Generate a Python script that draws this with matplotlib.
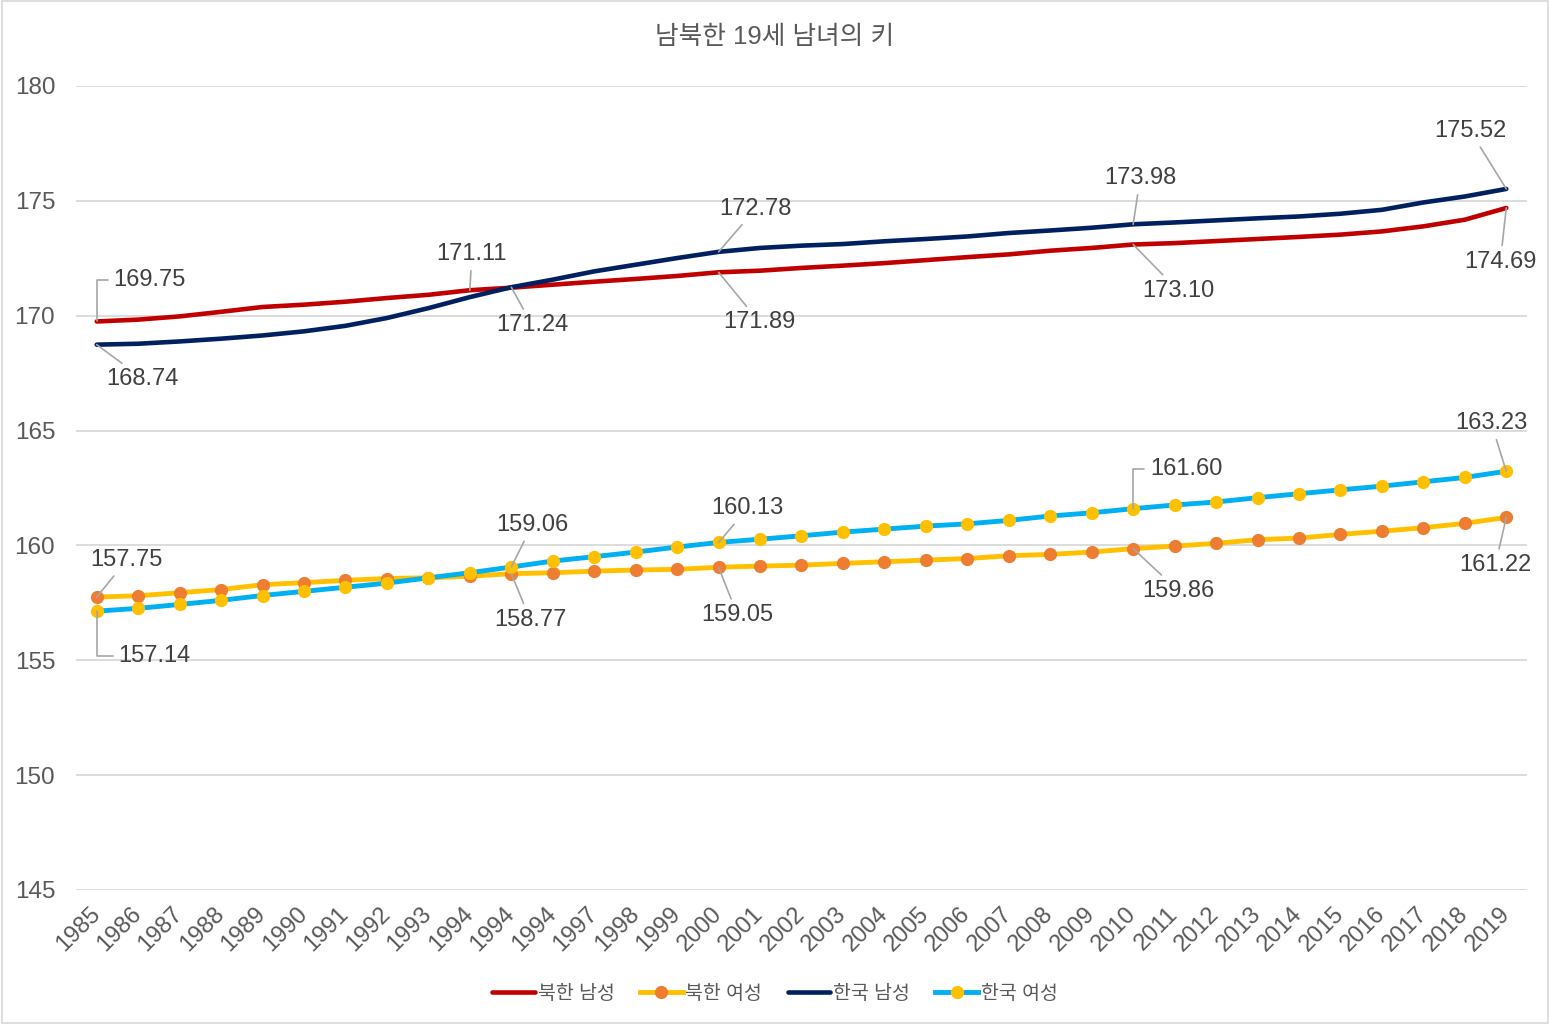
import matplotlib
matplotlib.use('Agg')
import matplotlib.pyplot as plt
from matplotlib.patches import Rectangle

plt.rcParams['font.family'] = ['Liberation Sans', 'Noto Sans CJK KR', 'DejaVu Sans']

# 연도 라벨 (원본 그대로: 1994가 세 번 나옴)
years = ['1985', '1986', '1987', '1988', '1989', '1990', '1991', '1992', '1993',
         '1994', '1994', '1994', '1997', '1998', '1999', '2000', '2001', '2002',
         '2003', '2004', '2005', '2006', '2007', '2008', '2009', '2010', '2011',
         '2012', '2013', '2014', '2015', '2016', '2017', '2018', '2019']

nk_men = [169.75, 169.83, 169.97, 170.17, 170.38, 170.48, 170.61, 170.77, 170.91,
          171.11, 171.22, 171.35, 171.48, 171.60, 171.73, 171.89, 171.96, 172.08,
          172.18, 172.29, 172.42, 172.55, 172.67, 172.83, 172.95, 173.10, 173.16,
          173.25, 173.34, 173.43, 173.53, 173.67, 173.89, 174.18, 174.69]
nk_women = [157.75, 157.81, 157.94, 158.08, 158.29, 158.38, 158.48, 158.56, 158.59,
            158.66, 158.77, 158.81, 158.88, 158.93, 158.96, 159.05, 159.10, 159.14,
            159.22, 159.29, 159.36, 159.43, 159.55, 159.61, 159.71, 159.86, 159.97,
            160.09, 160.25, 160.32, 160.48, 160.62, 160.77, 160.96, 161.22]
sk_men = [168.74, 168.78, 168.88, 169.00, 169.14, 169.32, 169.56, 169.90, 170.33,
          170.81, 171.24, 171.57, 171.93, 172.22, 172.51, 172.78, 172.95, 173.05,
          173.12, 173.24, 173.34, 173.45, 173.60, 173.71, 173.83, 173.98, 174.06,
          174.15, 174.24, 174.32, 174.44, 174.61, 174.93, 175.19, 175.52]
sk_women = [157.14, 157.26, 157.43, 157.61, 157.82, 158.00, 158.18, 158.36, 158.59,
            158.81, 159.06, 159.32, 159.51, 159.71, 159.93, 160.13, 160.27, 160.42,
            160.58, 160.71, 160.84, 160.94, 161.09, 161.28, 161.42, 161.60, 161.76,
            161.89, 162.08, 162.25, 162.42, 162.58, 162.77, 162.96, 163.23]

x = list(range(len(years)))

fig = plt.figure(figsize=(15.5, 10.24), dpi=100)
ax = fig.add_axes([76 / 1550, 134 / 1024, 1451 / 1550, 804 / 1024])

ax.plot(x, nk_men, color='#C00000', lw=3.3, label='북한 남성', solid_capstyle='round', zorder=3)
ax.plot(x, nk_women, color='#FFC000', lw=3.5, marker='o', ms=8.5, mfc='#ED7D31',
        mec='#ED7D31', label='북한 여성', zorder=3)
ax.plot(x, sk_men, color='#002060', lw=3.3, label='한국 남성', solid_capstyle='round', zorder=4)
ax.plot(x, sk_women, color='#00B0F0', lw=3.5, marker='o', ms=8.5, mfc='#FFC000',
        mec='#FFC000', label='한국 여성', zorder=4)

ax.set_xlim(-0.5, len(years) - 0.5)
ax.set_ylim(145, 180)
ax.set_yticks([145, 150, 155, 160, 165, 170, 175, 180])
ax.set_xticks(x)
ax.set_xticklabels(years, rotation=45, ha='right', va='center', rotation_mode='anchor')
ax.tick_params(axis='x', length=0, pad=15, labelsize=17, labelcolor='#595959')
ax.tick_params(axis='y', length=0, pad=15, labelsize=17.5, labelcolor='#595959')
ax.grid(axis='y', color='#D9D9D9', lw=1.3)
ax.set_axisbelow(True)
for s in ax.spines.values():
    s.set_visible(False)

# 데이터 라벨: (시리즈, 인덱스, 오프셋 픽셀, 꺾은선 여부)
labels = [
    (nk_men, 0, (53, 41), 'elbow'),
    (sk_men, 0, (46, -34), None),
    (nk_men, 9, (2, 36), None),
    (sk_men, 10, (21, -38), None),
    (sk_men, 15, (37, 43), None),
    (nk_men, 15, (41, -50), None),
    (sk_men, 25, (7, 46), None),
    (nk_men, 25, (45, -46), None),
    (sk_men, 34, (-36, 58), None),
    (nk_men, 34, (-6, -54), None),
    (nk_women, 0, (30, 37), None),
    (sk_women, 0, (58, -45), 'elbow'),
    (sk_women, 10, (21, 42), None),
    (nk_women, 10, (19, -46), None),
    (sk_women, 15, (29, 34), None),
    (nk_women, 15, (19, -48), None),
    (sk_women, 25, (53, 40), 'elbow'),
    (nk_women, 25, (45, -42), None),
    (sk_women, 34, (-15, 48), None),
    (nk_women, 34, (-11, -48), None),
]
for series, i, off, kind in labels:
    cs = 'angle,angleA=0,angleB=90,rad=0' if kind else 'arc3'
    ax.annotate(f'{series[i]:.2f}', xy=(i, series[i]), xytext=off,
                textcoords='offset pixels', ha='center', va='center',
                fontsize=17, color='#404040', zorder=6,
                arrowprops=dict(arrowstyle='-', color='#A6A6A6', lw=1.2,
                                connectionstyle=cs, shrinkA=2, shrinkB=0))

fig.text(0.5, 1 - 37 / 1024, '남북한 19세 남녀의 키', ha='center', va='center',
         fontsize=18.5, color='#595959')

fig.legend(loc='center', bbox_to_anchor=(0.5, 1 - 994 / 1024), ncol=4, frameon=False,
           fontsize=14, labelcolor='#595959', handlelength=2.2, handletextpad=0.15,
           columnspacing=1.3)

fig.add_artist(Rectangle((0.001, 0.001), 0.998, 0.998, transform=fig.transFigure,
                         fill=False, edgecolor='#D9D9D9', lw=1.2))

fig.savefig('out.png', dpi=100)
